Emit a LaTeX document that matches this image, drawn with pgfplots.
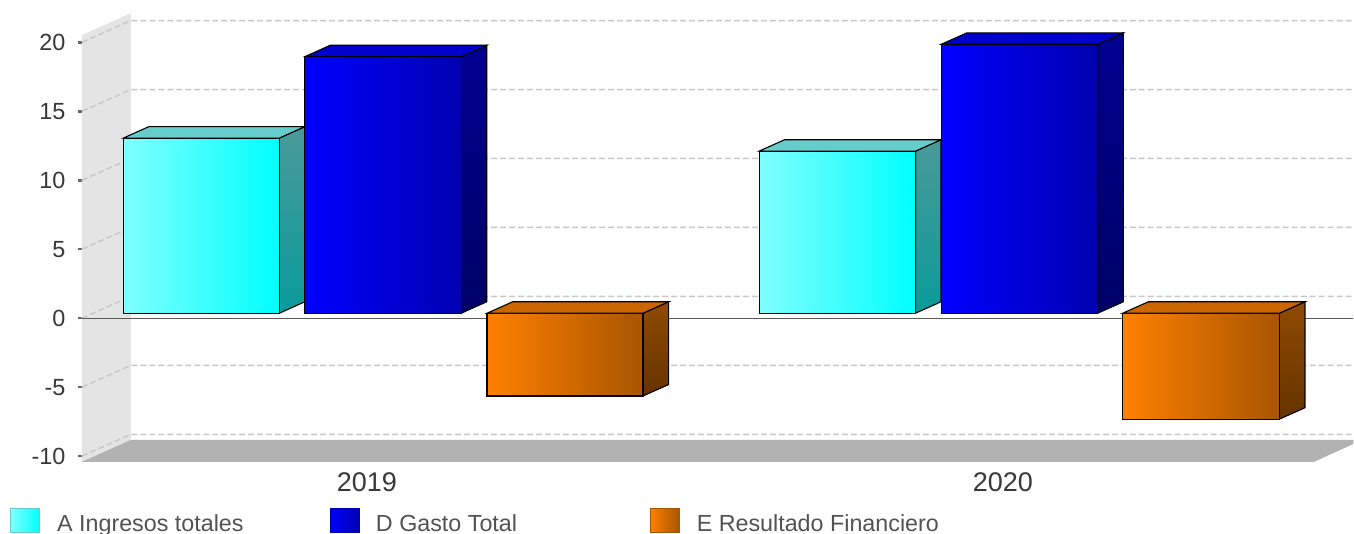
\documentclass[border=0pt]{standalone}
\usepackage{fontspec}
\setmainfont{Liberation Sans}
\usepackage{pgfplots}
\pgfplotsset{compat=1.18}
\definecolor{gridc}{HTML}{C8C8C8}
\definecolor{wallc}{HTML}{E4E4E4}
\definecolor{floorc}{HTML}{B2B2B2}
\definecolor{cyL}{HTML}{80FFFF}
\definecolor{cyR}{HTML}{00FFFF}
\definecolor{cyT}{HTML}{66CCCC}
\definecolor{cyS1}{HTML}{4A9A9A}
\definecolor{cyS2}{HTML}{0A9A9A}
\definecolor{blL}{HTML}{0000FF}
\definecolor{blR}{HTML}{0000B0}
\definecolor{blT}{HTML}{0000CC}
\definecolor{blS1}{HTML}{000090}
\definecolor{blS2}{HTML}{000066}
\definecolor{orL}{HTML}{FF8000}
\definecolor{orR}{HTML}{A85500}
\definecolor{orT}{HTML}{CC6600}
\definecolor{orS1}{HTML}{8F4A00}
\definecolor{orS2}{HTML}{663300}
\tikzset{
 gl/.style={draw=gridc,line width=1.5pt,dash pattern=on 6pt off 3pt},
 fc/.style={draw=black,line width=1.1pt},
}
\begin{document}
\begin{tikzpicture}
\begin{axis}[
 scale only axis,width=1272pt,height=414pt,
 xmin=82,xmax=1354,ymin=-10,ymax=20,
 clip=false,no markers,
 axis line style={draw=none},
 xtick={367,1003.5},xticklabels={2019,2020},
 ytick={-10,-5,0,5,10,15,20},
 xtick pos=bottom,ytick pos=left,
 tick align=outside,
 xtick style={draw=none},
 ytick style={draw=black!60,line width=2.5pt},
 major tick length=4pt,
 yticklabel style={font=\fontsize{23.4}{26}\selectfont,text=black!78,xshift=-9pt},
 xticklabel style={font=\fontsize{27}{30}\selectfont,text=black!78,yshift=-9pt},
 /pgf/number format/assume math mode=true,
]
% walls
\addplot[draw=none,fill=wallc] coordinates {(82,-10.41)(131,-8.82)(131,22.12)(82,20.53)} -- cycle;
\addplot[draw=none,fill=floorc] coordinates {(82,-10.41)(131,-8.82)(1354,-8.82)(1354,-9.12)(1315,-10.41)} -- cycle;
% grid
\addplot[gl] coordinates {(82,-10)(131,-8.42)(1354,-8.42)};
\addplot[gl] coordinates {(82,-5)(131,-3.42)(1354,-3.42)};
\addplot[gl] coordinates {(82,0)(131,1.58)(1354,1.58)};
\addplot[gl] coordinates {(82,5)(131,6.58)(1354,6.58)};
\addplot[gl] coordinates {(82,10)(131,11.58)(1354,11.58)};
\addplot[gl] coordinates {(82,15)(131,16.58)(1354,16.58)};
\addplot[gl] coordinates {(82,20)(131,21.58)(1354,21.58)};
% zero line
\addplot[draw=black!65,line width=1pt] coordinates {(82,0)(1354,0)};
% 2019 cyan (12.7)
\addplot[fc,shade,top color=cyS1,bottom color=cyS2] coordinates {(279.5,0.36)(305,1.19)(305,13.89)(279.5,13.06)} -- cycle;
\addplot[fc,fill=cyT] coordinates {(123.5,13.06)(149,13.89)(305,13.89)(279.5,13.06)} -- cycle;
\addplot[fc,shade,left color=cyL,right color=cyR] coordinates {(123.5,0.36)(279.5,0.36)(279.5,13.06)(123.5,13.06)} -- cycle;
% 2019 blue (18.6)
\addplot[fc,shade,top color=blS1,bottom color=blS2] coordinates {(461.5,0.36)(487,1.19)(487,19.79)(461.5,18.96)} -- cycle;
\addplot[fc,fill=blT] coordinates {(305,18.96)(330.5,19.79)(487,19.79)(461.5,18.96)} -- cycle;
\addplot[fc,shade,left color=blL,right color=blR] coordinates {(305,0.36)(461.5,0.36)(461.5,18.96)(305,18.96)} -- cycle;
% 2019 orange (-6.0)
\addplot[fc,shade,top color=orS1,bottom color=orS2] coordinates {(643.3,-5.64)(669,-4.81)(669,1.19)(643.3,0.36)} -- cycle;
\addplot[fc,fill=orT] coordinates {(487.3,0.36)(513,1.19)(669,1.19)(643.3,0.36)} -- cycle;
\addplot[fc,shade,left color=orL,right color=orR] coordinates {(487.3,-5.64)(643.3,-5.64)(643.3,0.36)(487.3,0.36)} -- cycle;
% 2020 cyan (11.75)
\addplot[fc,shade,top color=cyS1,bottom color=cyS2] coordinates {(916,0.36)(941.5,1.19)(941.5,12.94)(916,12.11)} -- cycle;
\addplot[fc,fill=cyT] coordinates {(759.5,12.11)(785,12.94)(941.5,12.94)(916,12.11)} -- cycle;
\addplot[fc,shade,left color=cyL,right color=cyR] coordinates {(759.5,0.36)(916,0.36)(916,12.11)(759.5,12.11)} -- cycle;
% 2020 blue (19.5)
\addplot[fc,shade,top color=blS1,bottom color=blS2] coordinates {(1098.3,0.36)(1124,1.19)(1124,20.69)(1098.3,19.86)} -- cycle;
\addplot[fc,fill=blT] coordinates {(941.7,19.86)(967.5,20.69)(1124,20.69)(1098.3,19.86)} -- cycle;
\addplot[fc,shade,left color=blL,right color=blR] coordinates {(941.7,0.36)(1098.3,0.36)(1098.3,19.86)(941.7,19.86)} -- cycle;
% 2020 orange (-7.68)
\addplot[fc,shade,top color=orS1,bottom color=orS2] coordinates {(1280,-7.32)(1305.7,-6.49)(1305.7,1.19)(1280,0.36)} -- cycle;
\addplot[fc,fill=orT] coordinates {(1123.3,0.36)(1149,1.19)(1305.7,1.19)(1280,0.36)} -- cycle;
\addplot[fc,shade,left color=orL,right color=orR] coordinates {(1123.3,-7.32)(1280,-7.32)(1280,0.36)(1123.3,0.36)} -- cycle;
% legend swatches
\addplot[draw=cyT,line width=.8pt,shade,left color=cyL,right color=cyR] coordinates {(10.5,-15.56)(39.5,-15.56)(39.5,-13.78)(10.5,-13.78)} -- cycle;
\addplot[draw=blR,line width=.8pt,shade,left color=blL,right color=blR] coordinates {(330.5,-15.56)(359.5,-15.56)(359.5,-13.78)(330.5,-13.78)} -- cycle;
\addplot[draw=orR,line width=.8pt,shade,left color=orL,right color=orR] coordinates {(650.5,-15.56)(679.5,-15.56)(679.5,-13.78)(650.5,-13.78)} -- cycle;
\tikzset{lt/.style={overlay,anchor=base west,inner sep=0pt,text=black!68,font=\fontsize{23.3}{26}\selectfont}}
\node[lt] at (axis cs:57,-15.47) {A Ingresos totales};
\node[lt] at (axis cs:376,-15.47) {D Gasto Total};
\node[lt] at (axis cs:697,-15.47) {E Resultado Financiero};
\coordinate (bl) at (axis cs:0,-15.56);
\coordinate (tr) at (axis cs:1354,23.07);
\end{axis}
\path (bl) rectangle (tr);
\end{tikzpicture}
\end{document}
